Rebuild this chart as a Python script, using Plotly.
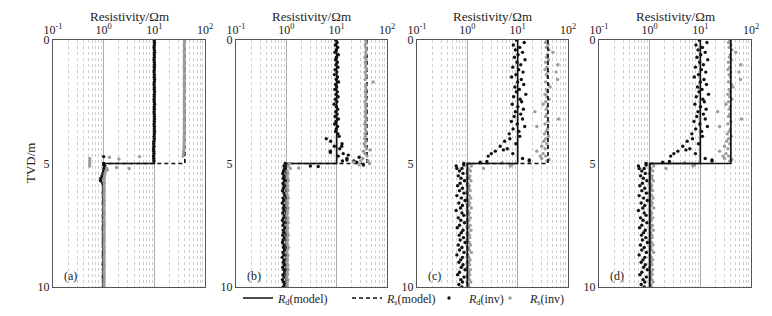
import plotly.graph_objects as go

# ---------------- data ----------------
DEPTH = [0.0, 0.1, 0.2, 0.3, 0.4, 0.5, 0.6, 0.7, 0.8, 0.9,
         1.0, 1.1, 1.2, 1.3, 1.4, 1.5, 1.6, 1.7, 1.8, 1.9,
         2.0, 2.1, 2.2, 2.3, 2.4, 2.5, 2.6, 2.7, 2.8, 2.9,
         3.0, 3.1, 3.2, 3.3, 3.4, 3.5, 3.6, 3.7, 3.8, 3.9,
         4.0, 4.1, 4.2, 4.3, 4.4, 4.5, 4.6, 4.7, 4.8, 4.9,
         5.0, 5.1, 5.2, 5.3, 5.4, 5.5, 5.6, 5.7, 5.8, 5.9,
         6.0, 6.1, 6.2, 6.3, 6.4, 6.5, 6.6, 6.7, 6.8, 6.9,
         7.0, 7.1, 7.2, 7.3, 7.4, 7.5, 7.6, 7.7, 7.8, 7.9,
         8.0, 8.1, 8.2, 8.3, 8.4, 8.5, 8.6, 8.7, 8.8, 8.9,
         9.0, 9.1, 9.2, 9.3, 9.4, 9.5, 9.6, 9.7, 9.8, 9.9, 10.0]

# model (step) profiles
MODEL_DEPTH = [0.0, 5.0, 5.0, 10.0]
RD_MODEL = [10.0, 10.0, 1.0, 1.0]
RS_MODEL = [40.0, 40.0, 1.0, 1.0]

# panel (a) inversion
A_RD_INV = [10.0, 10.1, 10.0, 9.9, 10.0, 10.1, 10.0, 10.0, 9.9, 10.0,
            10.1, 10.0, 10.0, 9.9, 10.0, 10.0, 10.1, 10.0, 9.9, 10.0,
            10.0, 10.1, 10.0, 10.0, 9.9, 10.0, 10.1, 10.0, 10.0, 9.9,
            10.0, 10.0, 10.1, 10.0, 9.9, 10.0, 10.0, 10.1, 10.0, 9.9,
            10.0, 9.8, 9.7, 9.8, 9.6, 9.7, 9.8, 9.6, 9.7, 9.8,
            1.0, 1.05, 1.02, 1.0, 0.97, 0.93, 0.88, 0.87, 0.96, 0.99,
            0.99, 1.0, 0.98, 0.99, 1.0, 0.99, 0.98, 1.0, 0.99, 0.99,
            1.0, 0.99, 0.98, 0.99, 1.0, 0.99, 0.99, 0.98, 1.0, 0.99,
            0.99, 1.0, 0.98, 0.99, 0.99, 1.0, 0.99, 0.98, 0.99, 1.0,
            0.99, 0.98, 1.0, 0.99, 0.99, 1.0, 0.98, 0.99, 1.0, 0.99, 0.99]
A_RS_INV = [39.0, 39.3, 38.8, 39.1, 39.0, 38.7, 39.2, 39.0, 38.9, 39.2,
            39.0, 38.8, 39.1, 39.0, 39.3, 38.9, 39.0, 39.1, 38.8, 39.0,
            39.2, 39.0, 38.9, 39.1, 39.0, 38.8, 39.2, 39.0, 39.1, 38.9,
            39.0, 39.2, 38.8, 39.0, 39.1, 38.9, 39.0, 39.2, 38.8, 39.0,
            38.9, 39.0, 38.7, 38.8, 38.5, 38.0, 37.5, 37.0, 0.53, 0.53,
            0.53, 0.53, 1.15, 1.1, 1.06, 1.04, 1.03, 1.02, 1.03, 1.02,
            1.02, 1.03, 1.02, 1.01, 1.02, 1.03, 1.02, 1.02, 1.01, 1.02,
            1.03, 1.02, 1.02, 1.01, 1.02, 1.03, 1.02, 1.02, 1.01, 1.02,
            1.02, 1.03, 1.02, 1.01, 1.02, 1.02, 1.03, 1.02, 1.01, 1.02,
            1.02, 1.03, 1.02, 1.02, 1.01, 1.02, 1.03, 1.02, 1.02, 1.01, 1.02]
A_RD_EXTRA_DEPTH = [4.72, 5.05]
A_RD_EXTRA = [1.0, 1.0]
A_RS_EXTRA_DEPTH = [4.72, 4.75, 4.82, 5.16, 5.2, 5.26]
A_RS_EXTRA = [5.1, 1.3, 2.0, 1.8, 3.2, 1.18]

# panel (b) inversion
B_RD_INV = [9.6, 10.2, 9.4, 10.5, 9.8, 9.2, 10.8, 9.9, 9.5, 10.3,
            9.7, 10.6, 9.3, 10.1, 9.0, 10.4, 9.8, 10.9, 9.5, 10.0,
            9.2, 10.3, 9.7, 10.7, 9.4, 10.1, 8.9, 9.9, 10.5, 9.6,
            10.2, 9.3, 10.8, 9.7, 9.1, 10.4, 9.8, 9.5, 10.6, 11.2,
            6.2, 7.6, 12.8, 9.0, 11.5, 7.5, 13.5, 10.8, 16.0, 22.0,
            0.95, 0.9, 0.92, 0.88, 0.85, 0.9, 0.87, 0.92, 0.86, 0.9,
            0.88, 0.84, 0.9, 0.93, 0.86, 0.89, 0.83, 0.91, 0.87, 0.9,
            0.85, 0.92, 0.88, 0.84, 0.9, 0.86, 0.93, 0.87, 0.89, 0.85,
            0.91, 0.87, 0.84, 0.9, 0.88, 0.92, 0.86, 0.89, 0.83, 0.9,
            0.87, 0.91, 0.85, 0.89, 0.93, 0.86, 0.9, 0.84, 0.88, 0.92, 0.87]
B_RS_INV = [37.5, 38.5, 37.0, 38.0, 39.0, 37.5, 38.0, 36.5, 38.5, 37.0,
            38.0, 37.5, 39.0, 37.0, 38.0, 38.5, 37.0, 53.0, 38.0, 37.5,
            38.5, 37.0, 38.0, 37.5, 39.0, 36.5, 38.0, 37.5, 38.5, 37.0,
            38.0, 37.0, 38.5, 37.5, 36.0, 38.0, 37.0, 38.5, 36.5, 37.5,
            36.0, 38.0, 35.0, 37.0, 39.0, 34.0, 36.5, 40.0, 33.0, 42.0,
            1.15, 1.1, 1.2, 1.05, 1.08, 1.04, 1.06, 1.1, 1.03, 1.07,
            1.05, 1.08, 1.02, 1.06, 1.1, 1.04, 1.07, 1.03, 1.09, 1.05,
            1.06, 1.02, 1.08, 1.05, 1.1, 1.03, 1.07, 1.04, 1.06, 1.09,
            1.04, 1.07, 1.03, 1.06, 1.1, 1.05, 1.02, 1.08, 1.05, 1.06,
            1.03, 1.07, 1.05, 1.09, 1.04, 1.06, 1.02, 1.08, 1.05, 1.04, 1.06]
B_RD_EXTRA_DEPTH = [4.3, 4.55, 4.66, 4.75, 4.86, 4.9, 4.95, 5.06, 5.1, 5.12]
B_RD_EXTRA = [12.6, 7.5, 17.0, 28.0, 16.0, 13.0, 25.0, 34.0, 3.0, 4.3]
B_RS_EXTRA_DEPTH = [4.45, 4.9, 4.95, 5.0, 5.05, 5.18]
B_RS_EXTRA = [46.0, 30.0, 22.0, 45.0, 28.0, 1.76]

# panels (c) and (d) inversion
C_RD_INV = [9.5, 13.5, 8.2, 11.0, 9.0, 12.5, 10.2, 8.6, 14.0, 9.7,
            11.5, 8.0, 10.5, 12.8, 9.2, 7.6, 11.8, 10.0, 13.2, 8.8,
            10.8, 9.4, 14.5, 8.3, 11.2, 12.0, 7.8, 10.1, 13.0, 9.0,
            11.5, 8.5, 12.5, 7.5, 9.8, 13.8, 8.1, 10.6, 6.8, 11.0,
            7.0, 5.5, 9.2, 4.5, 6.2, 3.6, 8.0, 2.6, 12.5, 17.0,
            0.85, 0.6, 0.78, 0.7, 0.82, 0.66, 0.75, 0.88, 0.72, 0.64,
            0.8, 0.7, 0.86, 0.62, 0.76, 0.9, 0.68, 0.8, 0.73, 0.6,
            0.78, 0.85, 0.66, 0.74, 0.88, 0.7, 0.63, 0.82, 0.76, 0.69,
            0.84, 0.72, 0.9, 0.66, 0.78, 0.7, 0.86, 0.62, 0.8, 0.74,
            0.68, 0.82, 0.76, 0.9, 0.7, 0.64, 0.86, 0.74, 0.8, 0.68, 0.78]
C_RS_INV = [38.0, 36.0, 40.0, 37.0, 42.0, 50.0, 39.0, 37.5, 41.0, 36.0,
            63.0, 38.0, 35.0, 40.0, 37.0, 39.0, 62.0, 36.0, 41.0, 44.0,
            37.0, 39.0, 35.0, 38.0, 42.0, 36.0, 32.0, 39.0, 37.0, 22.0,
            38.0, 36.0, 65.0, 40.0, 35.0, 24.0, 39.0, 37.0, 34.0, 41.0,
            36.0, 33.0, 38.0, 30.0, 35.0, 24.0, 32.0, 36.0, 30.0, 38.0,
            1.1, 1.2, 1.05, 1.15, 1.0, 1.12, 1.08, 1.18, 1.02, 1.1,
            1.06, 1.14, 1.0, 1.1, 1.17, 1.04, 1.12, 1.07, 1.2, 1.03,
            1.1, 1.05, 1.15, 1.08, 1.0, 1.13, 1.06, 1.18, 1.04, 1.1,
            1.12, 1.02, 1.09, 1.16, 1.05, 1.1, 1.2, 1.03, 1.08, 1.14,
            1.06, 1.11, 1.0, 1.15, 1.07, 1.12, 1.04, 1.1, 1.17, 1.05, 1.09]
C_RD_EXTRA_DEPTH = [4.45, 4.6, 4.86, 4.92, 4.95, 5.06, 5.2]
C_RD_EXTRA = [5.2, 3.0, 17.0, 2.45, 1.8, 0.85, 0.62]
C_RS_EXTRA_DEPTH = [1.3, 4.7, 4.85, 4.97, 5.05, 5.1, 5.2]
C_RS_EXTRA = [58.0, 28.0, 42.0, 4.9, 7.7, 7.1, 2.1]

PANEL_LABELS = ["(a)", "(b)", "(c)", "(d)"]
X_TICKVALS = [0.1, 1, 10, 100]
X_TICKTEXT = ["10<sup>-1</sup>", "10<sup>0</sup>", "10<sup>1</sup>", "10<sup>2</sup>"]
Y_TICKVALS = [0, 5, 10]
X_TITLE = "Resistivity/Ωm"
Y_TITLE = "TVD/m"
LEG_RD_MODEL = "<i>R</i><sub>d</sub>(model)"
LEG_RS_MODEL = "<i>R</i><sub>s</sub>(model)"
LEG_RD_INV = "<i>R</i><sub>d</sub>(inv)"
LEG_RS_INV = "<i>R</i><sub>s</sub>(inv)"

# per panel: data, Rs-model dash style, whether points are drawn above the model lines
panels = [
    (A_RD_INV, A_RS_INV, A_RD_EXTRA_DEPTH, A_RD_EXTRA, A_RS_EXTRA_DEPTH, A_RS_EXTRA, "dash", True),
    (B_RD_INV, B_RS_INV, B_RD_EXTRA_DEPTH, B_RD_EXTRA, B_RS_EXTRA_DEPTH, B_RS_EXTRA, "dash", True),
    (C_RD_INV, C_RS_INV, C_RD_EXTRA_DEPTH, C_RD_EXTRA, C_RS_EXTRA_DEPTH, C_RS_EXTRA, "dash", False),
    (C_RD_INV, C_RS_INV, C_RD_EXTRA_DEPTH, C_RD_EXTRA, C_RS_EXTRA_DEPTH, C_RS_EXTRA, "solid", False),
]

# ---------------- layout geometry ----------------
W, H = 772, 316
X_DOMAINS = [(53, 205), (236, 387), (417, 568), (599, 751)]
TOP, BOT = 40, 287
LEGEND_X = {"legend": 238, "legend2": 347, "legend3": 429, "legend4": 490}
FONT = "Liberation Serif, Times New Roman, serif"
BLACK = "#111111"
GREY = "#9c9c9c"
TXT = "#222222"

minor_vals = []
for dec in [0.1, 1, 10]:
    for k in range(2, 10):
        minor_vals.append(round(dec * k, 6))

fig = go.Figure()


def add_points(key, vals, ed, ev, xa, ya, first):
    col = BLACK if key == "rd" else GREY
    fig.add_trace(go.Scatter(
        x=list(vals) + list(ev), y=list(DEPTH) + list(ed),
        mode="markers", marker=dict(size=3.4, color=col, line=dict(width=0)),
        xaxis=xa, yaxis=ya,
        name=LEG_RD_INV if key == "rd" else LEG_RS_INV,
        legend="legend3" if key == "rd" else "legend4",
        showlegend=first))


def add_models(rs_dash, xa, ya, first):
    fig.add_trace(go.Scatter(
        x=RS_MODEL, y=MODEL_DEPTH, mode="lines",
        line=dict(color=BLACK, width=1.7, dash="4px,3px" if rs_dash == "dash" else "solid"),
        xaxis=xa, yaxis=ya, name=LEG_RS_MODEL, legend="legend2", showlegend=first))
    fig.add_trace(go.Scatter(
        x=RD_MODEL, y=MODEL_DEPTH, mode="lines",
        line=dict(color=BLACK, width=1.7),
        xaxis=xa, yaxis=ya, name=LEG_RD_MODEL, legend="legend", showlegend=first))


for i, (rd, rs, rdx_d, rdx, rsx_d, rsx, rs_dash, pts_on_top) in enumerate(panels):
    n = i + 1
    xa = "x" if n == 1 else f"x{n}"
    ya = "y" if n == 1 else f"y{n}"
    first = (i == 0)
    if pts_on_top:
        add_models(rs_dash, xa, ya, first)
        add_points("rd", rd, rdx_d, rdx, xa, ya, first)
        add_points("rs", rs, rsx_d, rsx, xa, ya, first)
    else:
        add_points("rd", rd, rdx_d, rdx, xa, ya, first)
        add_points("rs", rs, rsx_d, rsx, xa, ya, first)
        add_models(rs_dash, xa, ya, first)

layout = dict(
    width=W, height=H, template="none",
    margin=dict(l=0, r=0, t=0, b=0),
    paper_bgcolor="white", plot_bgcolor="white",
    font=dict(family=FONT, size=12, color=TXT),
    showlegend=True,
)
for lk, lx in LEGEND_X.items():
    layout[lk] = dict(orientation="h", x=lx / W, xanchor="left", y=1 - 298 / H, yanchor="middle",
                      bgcolor="rgba(0,0,0,0)", font=dict(family=FONT, size=12, color=TXT),
                      itemwidth=30, tracegroupgap=0)
annotations = []
for i, (x0, x1) in enumerate(X_DOMAINS):
    n = i + 1
    xk = "xaxis" if n == 1 else f"xaxis{n}"
    yk = "yaxis" if n == 1 else f"yaxis{n}"
    ya = "y" if n == 1 else f"y{n}"
    xa = "x" if n == 1 else f"x{n}"
    layout[xk] = dict(
        type="log", range=[-1, 2], domain=[x0 / W, x1 / W], anchor=ya, side="top",
        tickvals=X_TICKVALS, ticktext=X_TICKTEXT, ticks="",
        tickfont=dict(family=FONT, size=12, color=TXT),
        showgrid=True, gridcolor="#adadad", gridwidth=1,
        minor=dict(tickmode="array", tickvals=minor_vals, showgrid=True,
                   gridcolor="#cdcdcd", griddash="dot", gridwidth=1, ticks=""),
        showline=True, mirror=True, linecolor="#555555", linewidth=1,
        zeroline=False, automargin=False, fixedrange=True)
    layout[yk] = dict(
        range=[10, 0], domain=[1 - BOT / H, 1 - TOP / H], anchor=xa,
        tickvals=Y_TICKVALS, ticks="", showgrid=False, zeroline=False,
        tickfont=dict(family=FONT, size=12, color=TXT),
        showline=True, mirror=True, linecolor="#555555", linewidth=1,
        automargin=False, fixedrange=True)
    annotations.append(dict(text=X_TITLE, x=(x0 + x1) / 2 / W, y=1 - 17 / H,
                            xref="paper", yref="paper", xanchor="center", yanchor="middle",
                            showarrow=False, font=dict(family=FONT, size=13, color=TXT)))
    annotations.append(dict(text=PANEL_LABELS[i], x=(x0 + 9) / W, y=1 - 276 / H,
                            xref="paper", yref="paper", xanchor="left", yanchor="middle",
                            showarrow=False, font=dict(family=FONT, size=12, color=TXT)))
annotations.append(dict(text=Y_TITLE, x=30 / W, y=1 - 163 / H, textangle=-90,
                        xref="paper", yref="paper", xanchor="center", yanchor="middle",
                        showarrow=False, font=dict(family=FONT, size=13, color=TXT)))
layout["annotations"] = annotations
fig.update_layout(**layout)

fig.write_html("out.html", config={"displayModeBar": False},
               post_script="document.body.style.margin='0px';document.body.style.padding='0px';")
